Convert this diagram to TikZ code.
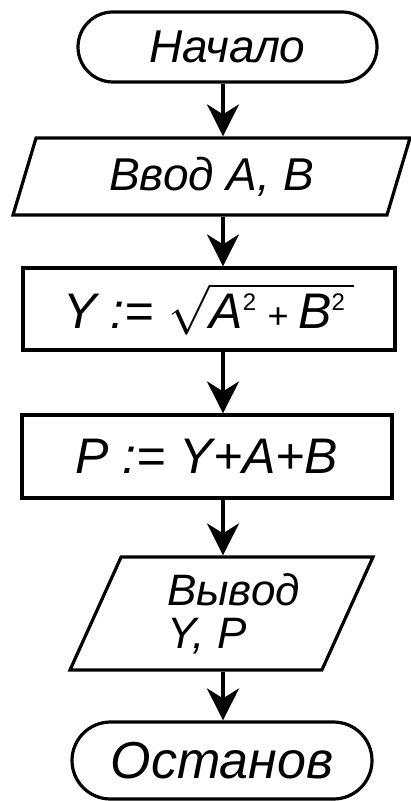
\documentclass[tikz,border=0pt]{standalone}
\usepackage{fontspec}
\setmainfont{Liberation Sans}
\usetikzlibrary{arrows.meta, shapes.geometric}

\begin{document}
\begin{tikzpicture}[
    x=0.5pt, y=-0.5pt,
    blk/.style={
        draw=black, line width=1.6pt, inner sep=2pt,
        text centered, font=\fontsize{23}{27}\selectfont\itshape
    },
    term/.style={blk, rectangle, minimum width=149.5pt},
    io/.style={blk, trapezium, trapezium stretches body,
        trapezium left angle=#1, trapezium right angle=180-#1},
    proc/.style={blk, rectangle, minimum width=186pt, minimum height=41pt,
        font=\fontsize{25}{30}\selectfont\itshape},
    arr/.style={
        -{Stealth[length=16pt, width=16pt, inset=5pt]},
        line width=1.6pt, black
    }
]
\useasboundingbox (0,0) rectangle (411,801);

\coordinate (axis) at (223,0);

\node[term, minimum height=35pt, rounded corners=17.5pt] at (227.5,47) (start) {Начало};
\node[io=64, minimum width=198.5pt, minimum height=38.5pt] at (211.5,176.5) (input) {Ввод A, B};
\node[proc] at (209,309) (calcY)
    {Y := $\sqrt{\mbox{\itshape A\textsuperscript{\upshape\fontsize{12}{12}\selectfont 2}%
    {\fontsize{18}{18}\selectfont\ +\ }B\textsuperscript{\upshape\fontsize{12}{12}\selectfont 2}\,}}$};
\node[proc, minimum width=185pt, minimum height=41.5pt] at (207,456.5) (calcP) {P := Y+A+B};
\node[io=60, minimum width=151.5pt, minimum height=56.5pt, align=left,
    font=\fontsize{22}{21.5}\selectfont\itshape] at (221.5,613.5) (output) {\hspace*{12pt}Вывод\\\hspace*{12pt}Y, P};
\node[term, minimum width=150pt, minimum height=38.5pt, rounded corners=19.25pt,
    font=\fontsize{26}{30}\selectfont\itshape] at (222,760.5) (stop) {Останов};

\draw[arr] (start.south -| axis)  -- (input.north -| axis);
\draw[arr] (input.south -| axis)  -- (calcY.north -| axis);
\draw[arr] (calcY.south -| axis)  -- (calcP.north -| axis);
\draw[arr] (calcP.south -| axis)  -- (output.north -| axis);
\draw[arr] (output.south -| axis) -- (stop.north -| axis);

\end{tikzpicture}
\end{document}
